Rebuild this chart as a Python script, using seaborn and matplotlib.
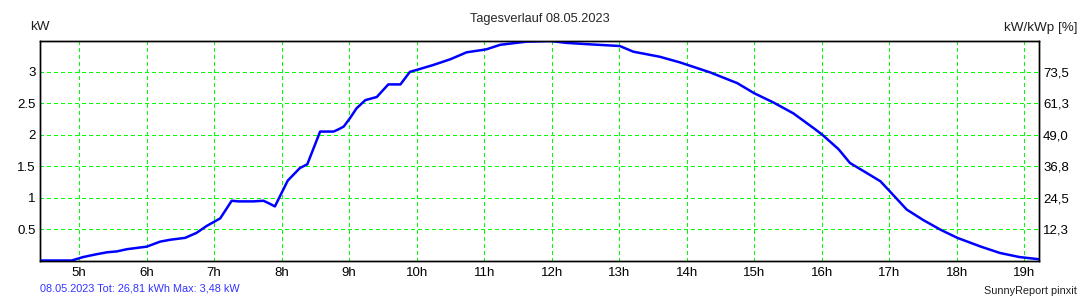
import matplotlib
matplotlib.use("Agg")
import matplotlib.pyplot as plt
import seaborn as sns
import pandas as pd

# ---- data ----
hours = [4.42, 4.89, 5.06, 5.26, 5.41, 5.56, 5.71, 6.0, 6.2, 6.35, 6.57, 6.74,
         6.89, 7.09, 7.26, 7.36, 7.58, 7.73, 7.81, 7.9, 8.09, 8.27, 8.38, 8.57,
         8.77, 8.85, 8.92, 9.01, 9.11, 9.24, 9.41, 9.58, 9.76, 9.9, 10.0, 10.25,
         10.5, 10.74, 10.99, 11.04, 11.24, 11.63, 11.98, 12.22, 12.52, 13.01,
         13.21, 13.6, 13.9, 14.35, 14.75, 15.0, 15.29, 15.58, 15.9, 16.02, 16.25,
         16.42, 16.67, 16.87, 17.01, 17.26, 17.51, 17.76, 18.01, 18.36, 18.64,
         18.93, 19.22]
kw = [0.0, 0.0, 0.055, 0.10, 0.13, 0.145, 0.18, 0.22, 0.30, 0.33, 0.36, 0.44,
      0.55, 0.67, 0.95, 0.94, 0.94, 0.95, 0.91, 0.86, 1.27, 1.47, 1.53, 2.05,
      2.05, 2.09, 2.13, 2.26, 2.42, 2.55, 2.60, 2.80, 2.80, 3.00, 3.03, 3.11,
      3.20, 3.31, 3.35, 3.36, 3.43, 3.48, 3.49, 3.46, 3.44, 3.41,
      3.32, 3.24, 3.15, 2.99, 2.82, 2.66, 2.51, 2.34, 2.09, 1.99, 1.77,
      1.55, 1.39, 1.26, 1.10, 0.81, 0.64, 0.49, 0.36, 0.22, 0.12,
      0.055, 0.02]

x_ticks = list(range(5, 20))
x_labels = [f"{h}h" for h in x_ticks]
y_ticks = [0.5, 1.0, 1.5, 2.0, 2.5, 3.0]
y_labels = ["0.5", "1", "1.5", "2", "2.5", "3"]
pct_labels = ["12,3", "24,5", "36,8", "49,0", "61,3", "73,5"]

title = "Tagesverlauf 08.05.2023"
footer_left = "08.05.2023 Tot: 26,81 kWh Max: 3,48 kW"
footer_right = "SunnyReport pinxit"

# ---- style ----
sns.set_style("white")
plt.rcParams["font.family"] = ["Liberation Sans", "DejaVu Sans"]
plt.rcParams["lines.antialiased"] = False
plt.rcParams["grid.color"] = "#00FF00"
plt.rcParams["grid.linewidth"] = 0.72
plt.rcParams["grid.linestyle"] = (0, (4, 3))

fig = plt.figure(figsize=(10.8, 3.0), dpi=100)
ax = fig.add_axes([40 / 1080, 1 - 260.5 / 300, 999 / 1080, 219.5 / 300])

df = pd.DataFrame({"h": hours, "kW": kw})
sns.lineplot(data=df, x="h", y="kW", ax=ax, color="#0000FF", linewidth=1.8,
             zorder=3, antialiased=True)

ax.set_xlim(4.42, 19.22)
ax.set_ylim(0, 3.49)
ax.set_xticks(x_ticks)
ax.set_xticklabels(x_labels, fontsize=9.5)
ax.set_yticks(y_ticks)
ax.set_yticklabels(y_labels, fontsize=9.5)
ax.set_xlabel("")
ax.set_ylabel("")
ax.tick_params(axis="both", length=0, pad=3, colors="black")
ax.tick_params(axis="x", pad=5)
ax.grid(True, color="#00FF00", linestyle=(0, (4, 3)), linewidth=0.72,
        antialiased=False)
for s in ax.spines.values():
    s.set_color("black")
    s.set_linewidth(1.0)
    s.set_visible(True)

ax2 = ax.twinx()
ax2.set_ylim(0, 3.49)
ax2.set_yticks(y_ticks)
ax2.set_yticklabels(pct_labels, fontsize=9.5)
ax2.tick_params(axis="y", length=0, pad=3, colors="black")
ax2.grid(False)
for s in ax2.spines.values():
    s.set_color("black")
    s.set_linewidth(1.0)

fig.text(0.5, 1 - 19 / 300, title, ha="center", va="center", fontsize=9.2)
fig.text(40 / 1080, 1 - 27.5 / 300, "kW", ha="center", va="center",
         fontsize=9.7, color="#202020")
fig.text(1077 / 1080, 1 - 28 / 300, "kW/kWp [%]", ha="right", va="center",
         fontsize=9.7, color="#202020")
fig.text(40.5 / 1080, 1 - 288.5 / 300, footer_left, ha="left", va="center",
         fontsize=7.8, color="#3333FF")
fig.text(1077 / 1080, 1 - 291.5 / 300, footer_right, ha="right", va="center",
         fontsize=7.8, color="#202020")

fig.savefig("out.png", dpi=100)
